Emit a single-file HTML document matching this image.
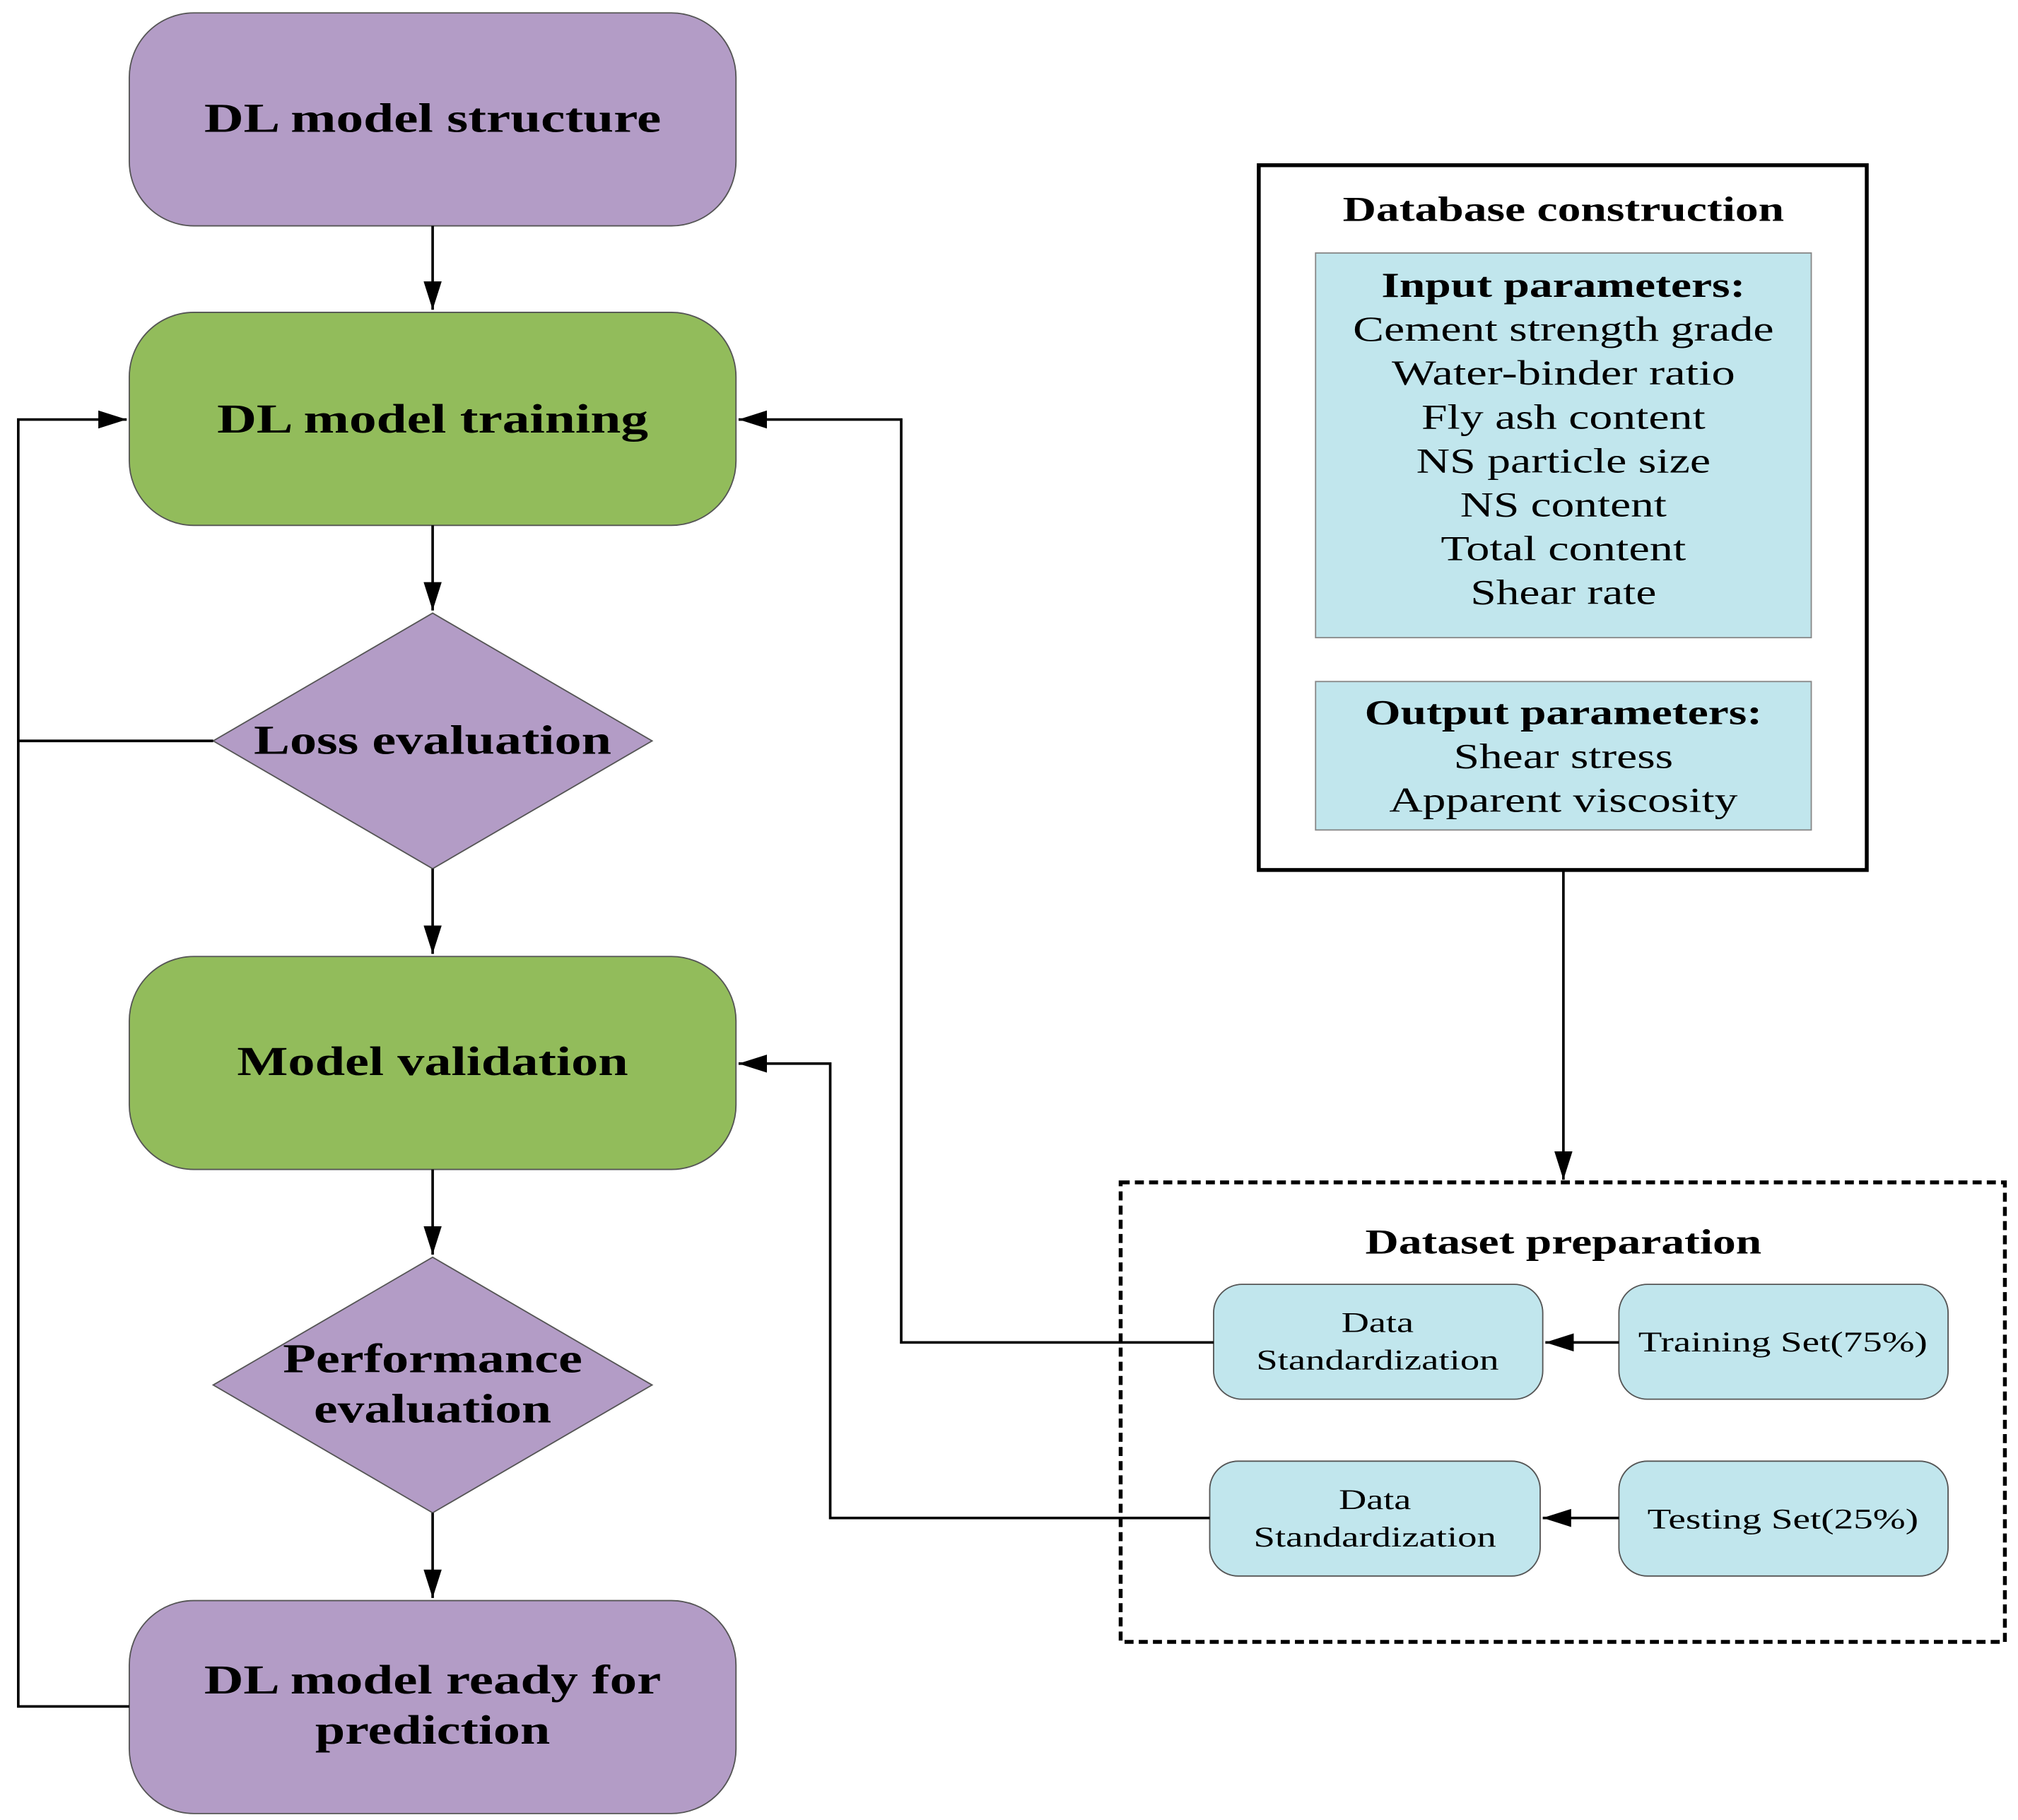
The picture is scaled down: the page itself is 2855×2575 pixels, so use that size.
<!DOCTYPE html>
<html><head><meta charset="utf-8"><style>html,body{margin:0;padding:0;background:#fff}svg{display:block}</style></head>
<body>
<svg width="2855" height="2575" viewBox="0 0 1563 1410" xmlns="http://www.w3.org/2000/svg" font-family="'Liberation Serif', serif">
<defs><marker id="a" markerWidth="10" markerHeight="8" refX="10" refY="4" orient="auto" markerUnits="userSpaceOnUse"><path d="M0,0 L10,4 L0,8 z" fill="#000"/></marker>
<marker id="b" markerWidth="22" markerHeight="14" refX="22" refY="7" orient="auto" markerUnits="userSpaceOnUse"><path d="M0,0 L22,7 L0,14 z" fill="#000"/></marker></defs>
<g stroke="#555" stroke-width="1">
<rect x="100" y="10" width="470" height="165" rx="50" fill="#b39cc6"/>
<rect x="100" y="242" width="470" height="165" rx="50" fill="#92bc5b"/>
<polygon points="335,475 505,574 335,673 165,574" fill="#b39cc6"/>
<rect x="100" y="741" width="470" height="165" rx="50" fill="#92bc5b"/>
<polygon points="335,974 505,1073 335,1172 165,1073" fill="#b39cc6"/>
<rect x="100" y="1240" width="470" height="165" rx="50" fill="#b39cc6"/>
<rect x="1019" y="196" width="384" height="298" fill="#c1e6ed" stroke="#888"/>
<rect x="1019" y="528" width="384" height="115" fill="#c1e6ed" stroke="#888"/>
<rect x="940" y="995" width="255" height="89" rx="22" fill="#c1e6ed"/>
<rect x="1254" y="995" width="255" height="89" rx="22" fill="#c1e6ed"/>
<rect x="937" y="1132" width="256" height="89" rx="22" fill="#c1e6ed"/>
<rect x="1254" y="1132" width="255" height="89" rx="22" fill="#c1e6ed"/>
</g>
<rect x="975" y="128" width="471" height="546" fill="none" stroke="#000" stroke-width="3"/>
<rect x="868" y="916" width="685" height="356" fill="none" stroke="#000" stroke-width="3" stroke-dasharray="7,4"/>
<g stroke="#000" stroke-width="2" fill="none">
<line x1="335" y1="175" x2="335" y2="240" marker-end="url(#b)"/>
<line x1="335" y1="407" x2="335" y2="473" marker-end="url(#b)"/>
<line x1="335" y1="673" x2="335" y2="739" marker-end="url(#b)"/>
<line x1="335" y1="906" x2="335" y2="972" marker-end="url(#b)"/>
<line x1="335" y1="1172" x2="335" y2="1238" marker-end="url(#b)"/>
<polyline points="165,574 14,574"/>
<polyline points="100,1322 14,1322 14,325 98,325" marker-end="url(#b)"/>
<polyline points="940,1040 698,1040 698,325 572,325" marker-end="url(#b)"/>
<polyline points="937,1176 643,1176 643,824 572,824" marker-end="url(#b)"/>
<line x1="1211" y1="674" x2="1211" y2="914" marker-end="url(#b)"/>
<line x1="1254" y1="1040" x2="1197" y2="1040" marker-end="url(#b)"/>
<line x1="1254" y1="1176" x2="1195" y2="1176" marker-end="url(#b)"/>
</g>
<g text-anchor="middle" font-weight="bold" font-size="32" fill="#000" lengthAdjust="spacingAndGlyphs">
<text x="335" y="102" textLength="354" lengthAdjust="spacingAndGlyphs">DL model structure</text>
<text x="335" y="335" textLength="334" lengthAdjust="spacingAndGlyphs">DL model training</text>
<text x="335" y="584" textLength="277" lengthAdjust="spacingAndGlyphs">Loss evaluation</text>
<text x="335" y="833" textLength="303" lengthAdjust="spacingAndGlyphs">Model validation</text>
<text x="335" y="1063" textLength="232" lengthAdjust="spacingAndGlyphs">Performance</text>
<text x="335" y="1102" textLength="184" lengthAdjust="spacingAndGlyphs">evaluation</text>
<text x="335" y="1312" textLength="354" lengthAdjust="spacingAndGlyphs">DL model ready for</text>
<text x="335" y="1351" textLength="182" lengthAdjust="spacingAndGlyphs">prediction</text>
</g>
<g text-anchor="middle" font-size="27" fill="#000">
<text x="1211" y="171" font-weight="bold" textLength="342" lengthAdjust="spacingAndGlyphs">Database construction</text>
<text x="1211" y="230" font-weight="bold" textLength="282" lengthAdjust="spacingAndGlyphs">Input parameters:</text>
<text x="1211" y="264" textLength="326" lengthAdjust="spacingAndGlyphs">Cement strength grade</text>
<text x="1211" y="298" textLength="266" lengthAdjust="spacingAndGlyphs">Water-binder ratio</text>
<text x="1211" y="332" textLength="220" lengthAdjust="spacingAndGlyphs">Fly ash content</text>
<text x="1211" y="366" textLength="228" lengthAdjust="spacingAndGlyphs">NS particle size</text>
<text x="1211" y="400" textLength="160" lengthAdjust="spacingAndGlyphs">NS content</text>
<text x="1211" y="434" textLength="190" lengthAdjust="spacingAndGlyphs">Total content</text>
<text x="1211" y="468" textLength="144" lengthAdjust="spacingAndGlyphs">Shear rate</text>
<text x="1211" y="561" font-weight="bold" textLength="308" lengthAdjust="spacingAndGlyphs">Output parameters:</text>
<text x="1211" y="595" textLength="170" lengthAdjust="spacingAndGlyphs">Shear stress</text>
<text x="1211" y="629" textLength="270" lengthAdjust="spacingAndGlyphs">Apparent viscosity</text>
<text x="1211" y="971" font-weight="bold" textLength="307" lengthAdjust="spacingAndGlyphs">Dataset preparation</text>
</g>
<g text-anchor="middle" font-size="22" fill="#000">
<text x="1067" y="1032" textLength="56" lengthAdjust="spacingAndGlyphs">Data</text>
<text x="1067" y="1061" textLength="188" lengthAdjust="spacingAndGlyphs">Standardization</text>
<text x="1381" y="1047" textLength="224" lengthAdjust="spacingAndGlyphs">Training Set(75%)</text>
<text x="1065" y="1169" textLength="56" lengthAdjust="spacingAndGlyphs">Data</text>
<text x="1065" y="1198" textLength="188" lengthAdjust="spacingAndGlyphs">Standardization</text>
<text x="1381" y="1184" textLength="210" lengthAdjust="spacingAndGlyphs">Testing Set(25%)</text>
</g>
</svg>
</body></html>
